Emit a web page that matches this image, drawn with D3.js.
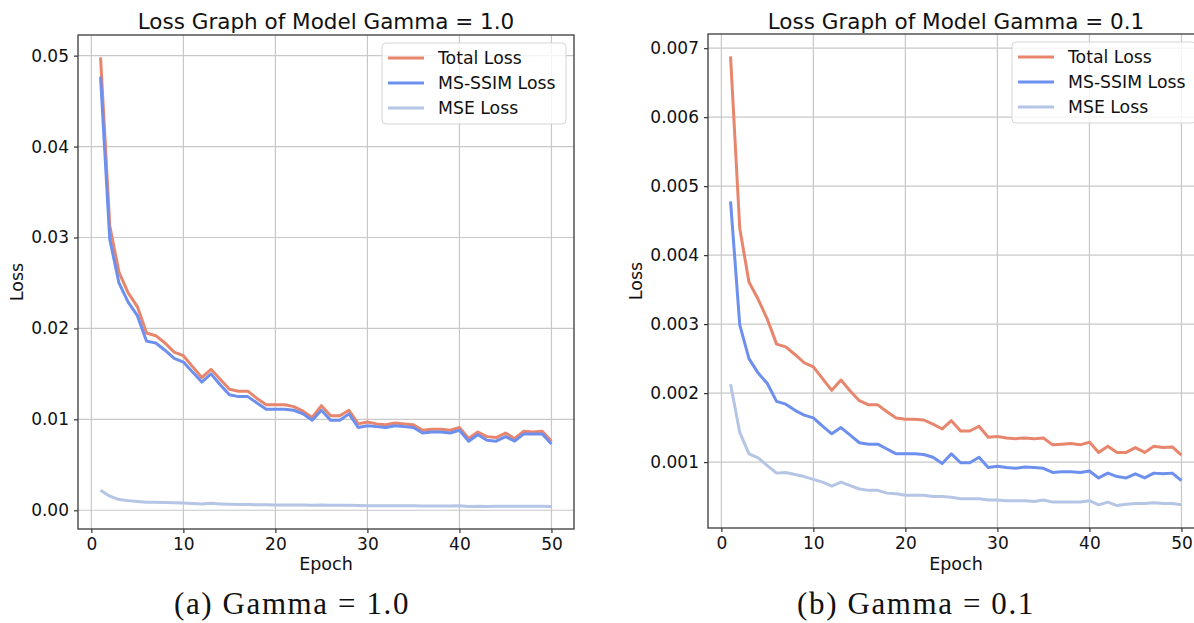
<!DOCTYPE html>
<html>
<head>
<meta charset="utf-8">
<script src="https://cdn.jsdelivr.net/npm/d3@7"></script>
<style>
  body { margin: 0; background: #fff; overflow: hidden; }
  svg { display: block; font-family: "DejaVu Sans", sans-serif; }
</style>
</head>
<body>
<svg id="chart" width="1194" height="623"></svg>
<script>
// Epochs (x values)
const epochs = [1, 2, 3, 4, 5, 6, 7, 8, 9, 10, 11, 12, 13, 14, 15, 16, 17, 18, 19, 20,
    21, 22, 23, 24, 25, 26, 27, 28, 29, 30, 31, 32, 33, 34, 35, 36, 37, 38, 39, 40,
    41, 42, 43, 44, 45, 46, 47, 48, 49, 50];

// Gamma = 1.0
const totalLossG1 = [0.0498, 0.0313, 0.0262, 0.0239, 0.0224, 0.0195, 0.0192, 0.0184, 0.0174, 0.0170,
    0.0158, 0.0146, 0.0155, 0.0144, 0.0133, 0.0131, 0.0131, 0.0123, 0.0116, 0.0116,
    0.0116, 0.0114, 0.0109, 0.0102, 0.0115, 0.0104, 0.0104, 0.0110, 0.0095, 0.0097,
    0.0095, 0.0094, 0.0096, 0.0095, 0.0094, 0.0088, 0.0089, 0.0089, 0.0088, 0.0091,
    0.0079, 0.0086, 0.0081, 0.0080, 0.0085, 0.0079, 0.0087, 0.0086, 0.0087, 0.0076];
const msssimLossG1 = [0.0477, 0.0298, 0.0250, 0.0229, 0.0214, 0.0186, 0.0184, 0.0176, 0.0167, 0.0163,
    0.0152, 0.0141, 0.0150, 0.0138, 0.0127, 0.0125, 0.0125, 0.0118, 0.0111, 0.0111,
    0.0111, 0.0110, 0.0106, 0.0099, 0.0110, 0.0099, 0.0099, 0.0106, 0.0091, 0.0093,
    0.0092, 0.0091, 0.0093, 0.0092, 0.0091, 0.0085, 0.0086, 0.0086, 0.0085, 0.0088,
    0.0076, 0.0083, 0.0077, 0.0076, 0.0081, 0.0076, 0.0084, 0.0084, 0.0084, 0.0073];
const mseLossG1 = [0.00220, 0.00155, 0.00118, 0.00106, 0.00096, 0.00088, 0.00087, 0.00085, 0.00082, 0.00080,
    0.00075, 0.00070, 0.00076, 0.00070, 0.00066, 0.00064, 0.00063, 0.00061, 0.00060, 0.00059,
    0.00058, 0.00058, 0.00057, 0.00056, 0.00057, 0.00055, 0.00054, 0.00054, 0.00052, 0.00051,
    0.00050, 0.00050, 0.00050, 0.00050, 0.00050, 0.00048, 0.00048, 0.00048, 0.00048, 0.00049,
    0.00042, 0.00045, 0.00041, 0.00043, 0.00044, 0.00043, 0.00044, 0.00044, 0.00044, 0.00042];

// Gamma = 0.1
const totalLossG01 = [0.00688, 0.00439, 0.00361, 0.00336, 0.00307, 0.00271, 0.00267, 0.00256, 0.00244, 0.00238,
    0.00221, 0.00204, 0.00219, 0.00203, 0.00189, 0.00183, 0.00183, 0.00173, 0.00164, 0.00162,
    0.00162, 0.00161, 0.00155, 0.00148, 0.00160, 0.00145, 0.00145, 0.00152, 0.00136, 0.00137,
    0.00135, 0.00134, 0.00135, 0.00134, 0.00135, 0.00125, 0.00126, 0.00127, 0.00125, 0.00129,
    0.00114, 0.00123, 0.00114, 0.00114, 0.00121, 0.00114, 0.00123, 0.00121, 0.00122, 0.00110];
const msssimLossG01 = [0.00478, 0.00299, 0.00250, 0.00229, 0.00214, 0.00188, 0.00184, 0.00175, 0.00168, 0.00164,
    0.00152, 0.00141, 0.00150, 0.00139, 0.00128, 0.00126, 0.00126, 0.00119, 0.00112, 0.00112,
    0.00112, 0.00111, 0.00107, 0.00098, 0.00112, 0.00099, 0.00099, 0.00107, 0.00092, 0.00094,
    0.00092, 0.00091, 0.00093, 0.00092, 0.00091, 0.00085, 0.00086, 0.00086, 0.00085, 0.00087,
    0.00077, 0.00084, 0.00079, 0.00077, 0.00083, 0.00077, 0.00084, 0.00083, 0.00084, 0.00073];
const mseLossG01 = [0.00213, 0.00143, 0.00112, 0.00106, 0.00095, 0.00084, 0.00085, 0.00082, 0.00079, 0.00075,
    0.00071, 0.00065, 0.00071, 0.00066, 0.00061, 0.00059, 0.00059, 0.00055, 0.00054, 0.00052,
    0.00052, 0.00052, 0.00050, 0.00050, 0.00049, 0.00047, 0.00047, 0.00047, 0.00045, 0.00045,
    0.00044, 0.00044, 0.00044, 0.00043, 0.00045, 0.00042, 0.00042, 0.00042, 0.00042, 0.00044,
    0.00038, 0.00042, 0.00037, 0.00039, 0.00040, 0.00040, 0.00041, 0.00040, 0.00040, 0.00038];

// Ticks and labels
const xTicks = [0, 10, 20, 30, 40, 50];
const yTicksG1 = [0.00, 0.01, 0.02, 0.03, 0.04, 0.05];
const yTicksG01 = [0.001, 0.002, 0.003, 0.004, 0.005, 0.006, 0.007];
const seriesNames = ["Total Loss", "MS-SSIM Loss", "MSE Loss"];
const seriesColors = ["#e8856d", "#6d8fee", "#b4c5e5"];

const svg = d3.select("#chart");

function drawPanel(opts) {
    const g = svg.append("g");
    const series = opts.series;

    // matplotlib style 5% margins
    const allY = series.flat();
    const yMin = d3.min(allY), yMax = d3.max(allY);
    const yPad = (yMax - yMin) * 0.05;
    const xPad = (d3.max(epochs) - d3.min(epochs)) * 0.05;

    const x = d3.scaleLinear()
        .domain([d3.min(epochs) - xPad, d3.max(epochs) + xPad])
        .range([opts.left, opts.right]);
    const y = d3.scaleLinear()
        .domain([yMin - yPad, yMax + yPad])
        .range([opts.bottom, opts.top]);

    // grid
    g.append("g").selectAll("line")
        .data(xTicks)
        .enter().append("line")
        .attr("x1", d => x(d)).attr("x2", d => x(d))
        .attr("y1", opts.top).attr("y2", opts.bottom)
        .attr("stroke", "#c8c8c8").attr("stroke-width", 1.2);
    g.append("g").selectAll("line")
        .data(opts.yTicks)
        .enter().append("line")
        .attr("x1", opts.left).attr("x2", opts.right)
        .attr("y1", d => y(d)).attr("y2", d => y(d))
        .attr("stroke", "#c8c8c8").attr("stroke-width", 1.2);

    // lines
    const line = d3.line()
        .x((d, i) => x(epochs[i]))
        .y(d => y(d));
    series.forEach((s, i) => {
        g.append("path")
            .datum(s)
            .attr("d", line)
            .attr("fill", "none")
            .attr("stroke", seriesColors[i])
            .attr("stroke-width", 3)
            .attr("stroke-linejoin", "round")
            .attr("stroke-linecap", "butt");
    });

    // axes
    const xAxis = g.append("g")
        .attr("transform", "translate(0," + opts.bottom + ")")
        .call(d3.axisBottom(x).tickValues(xTicks).tickSize(4).tickPadding(5).tickSizeOuter(0));
    const yAxis = g.append("g")
        .attr("transform", "translate(" + opts.left + ",0)")
        .call(d3.axisLeft(y).tickValues(opts.yTicks).tickFormat(d3.format(opts.fmt)).tickSize(4).tickPadding(5).tickSizeOuter(0));
    [xAxis, yAxis].forEach(a => {
        a.select(".domain").remove();
        a.selectAll(".tick line").attr("stroke", "#333").attr("stroke-width", 1.2);
        a.selectAll(".tick text")
            .attr("fill", "#111")
            .style("font-family", "DejaVu Sans")
            .style("font-size", "17px");
    });

    // spines
    g.append("rect")
        .attr("x", opts.left).attr("y", opts.top)
        .attr("width", opts.right - opts.left)
        .attr("height", opts.bottom - opts.top)
        .attr("fill", "none")
        .attr("stroke", "#3a3a3a")
        .attr("stroke-width", 1.3);

    // title & labels
    g.append("text")
        .attr("x", (opts.left + opts.right) / 2)
        .attr("y", 29)
        .attr("text-anchor", "middle")
        .style("font-size", "21.5px")
        .attr("fill", "#111")
        .text(opts.title);

    g.append("text")
        .attr("x", (opts.left + opts.right) / 2)
        .attr("y", 570)
        .attr("text-anchor", "middle")
        .style("font-size", "17.5px")
        .attr("fill", "#111")
        .text("Epoch");

    g.append("text")
        .attr("transform", "translate(" + opts.yLabelX + "," + ((opts.top + opts.bottom) / 2) + ") rotate(-90)")
        .attr("text-anchor", "middle")
        .style("font-size", "17.5px")
        .attr("fill", "#111")
        .text("Loss");

    // legend
    const legW = 184, legH = 81;
    const lx = opts.right - 8 - legW, ly = opts.top + 8;
    const leg = g.append("g").attr("transform", "translate(" + lx + "," + ly + ")");
    leg.append("rect")
        .attr("width", legW).attr("height", legH)
        .attr("rx", 4)
        .attr("fill", "rgba(255,255,255,0.8)")
        .attr("stroke", "#d5d5d5")
        .attr("stroke-width", 1);
    seriesNames.forEach((name, i) => {
        const ry = 15 + i * 25;
        leg.append("line")
            .attr("x1", 6).attr("x2", 42)
            .attr("y1", ry).attr("y2", ry)
            .attr("stroke", seriesColors[i])
            .attr("stroke-width", 3);
        leg.append("text")
            .attr("x", 56).attr("y", ry)
            .attr("dy", "0.36em")
            .style("font-size", "17.3px")
            .attr("fill", "#111")
            .text(name);
    });

    // caption
    svg.append("text")
        .attr("x", opts.captionX)
        .attr("y", 614)
        .attr("text-anchor", "middle")
        .style("font-family", "'Liberation Serif', serif")
        .style("font-size", "31px")
        .style("letter-spacing", "1.6px")
        .attr("fill", "#111")
        .text(opts.caption);
}

drawPanel({
    series: [totalLossG1, msssimLossG1, mseLossG1],
    yTicks: yTicksG1, fmt: ".2f",
    left: 78, right: 574, top: 35, bottom: 529,
    yLabelX: 23,
    title: "Loss Graph of Model Gamma = 1.0",
    caption: "(a) Gamma = 1.0", captionX: 292
});

drawPanel({
    series: [totalLossG01, msssimLossG01, mseLossG01],
    yTicks: yTicksG01, fmt: ".3f",
    left: 708, right: 1204, top: 34, bottom: 528,
    yLabelX: 642,
    title: "Loss Graph of Model Gamma = 0.1",
    caption: "(b) Gamma = 0.1", captionX: 916
});
</script>
</body>
</html>
